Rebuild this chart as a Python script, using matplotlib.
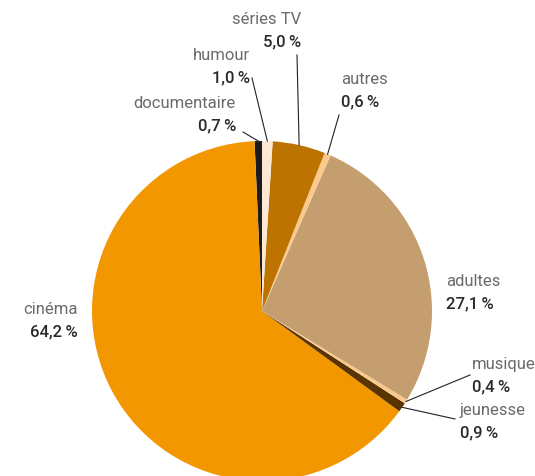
import math
import matplotlib
matplotlib.use("Agg")
import matplotlib.pyplot as plt

# parts in drawing order, counter-clockwise from the top
categories = ['documentaire', 'cinéma', 'jeunesse', 'musique', 'adultes', 'autres', 'séries TV', 'humour']
shares = [0.7, 64.2, 0.9, 0.4, 27.1, 0.6, 5.0, 1.0]
colors = ['#1d1b20', '#f29700', '#593300', '#fcc98c', '#c49e6e', '#fcc98c', '#bd7300', '#fde8d3']

# label anchor (pixels), alignment, leader line end (pixels) or None
label_pos = {
    'documentaire': (236, 104, 'right', (243, 132)),
    'cinéma': (78, 310, 'right', None),
    'jeunesse': (460, 411, 'left', (455, 419)),
    'musique': (472, 365, 'left', (470, 375)),
    'adultes': (446, 282, 'left', None),
    'autres': (341, 80, 'left', (339, 115)),
    'séries TV': (301, 20, 'right', (297, 55)),
    'humour': (250, 56, 'right', (252, 78)),
}

W, H = 535, 476
CX, CY, R = 262, 311, 170

plt.rcParams['font.family'] = ['Roboto', 'DejaVu Sans']

fig = plt.figure(figsize=(W / 100, H / 100), dpi=100)
ax = fig.add_axes([(CX - R) / W, (H - CY - R) / H, 2 * R / W, 2 * R / H])

wedges, _ = ax.pie(shares, colors=colors, startangle=90, counterclock=True,
                   radius=1, center=(0, 0), wedgeprops=dict(linewidth=0))
ax.set_xlim(-1, 1)
ax.set_ylim(-1, 1)
ax.axis('off')


def to_data(px, py):
    return (px - CX) / R, (CY - py) / R


for w, name, val in zip(wedges, categories, shares):
    tx, ty, ha, line_end = label_pos[name]
    x, y = to_data(tx, ty)
    x2, y2 = to_data(tx, ty + 22)
    ax.text(x, y, name, ha=ha, va='center', fontsize=12, color='#6a6a6a', clip_on=False)
    ax.text(x2, y2, f"{val:.1f}".replace('.', ',') + '\u2009%', ha=ha, va='center',
            fontsize=12, fontweight='medium', color='#2a2a2a', clip_on=False)
    if line_end is not None:
        mid = math.radians((w.theta1 + w.theta2) / 2)
        ex, ey = to_data(*line_end)
        ax.plot([math.cos(mid), ex], [math.sin(mid), ey], color='#222222',
                linewidth=0.8, clip_on=False)

fig.savefig('out.png', dpi=100)
